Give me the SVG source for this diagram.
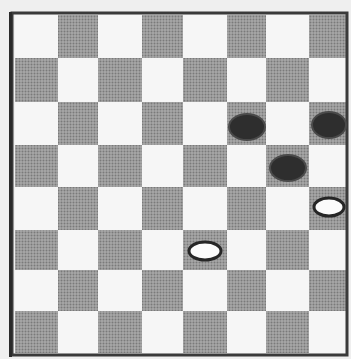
<svg xmlns="http://www.w3.org/2000/svg" width="351" height="359" viewBox="0 0 351 359">
<defs>
<pattern id="dots" width="3" height="3" patternUnits="userSpaceOnUse">
<rect width="3" height="3" fill="#a8a8a8"/>
<circle cx="1.5" cy="1.5" r="1" fill="#7a7a7a"/>
</pattern>
</defs>
<style>
.d{fill:url(#dots)}
.l{fill:#f6f6f6}
.bp{fill:#2e2e2e;stroke:#4a4a4a;stroke-width:2}
.wp{fill:#fbfbfb;stroke:#262626;stroke-width:3}
</style>
<rect width="351" height="359" fill="#efefef"/>
<g id="board">
<rect x="15" y="15" width="331" height="338" class="l"/>
<!-- row 0 -->
<rect class="d" x="58" y="15" width="40" height="43"/>
<rect class="d" x="142" y="15" width="41" height="43"/>
<rect class="d" x="227" y="15" width="39" height="43"/>
<rect class="d" x="309" y="15" width="37" height="43"/>
<!-- row 1 -->
<rect class="d" x="15" y="58" width="43" height="44"/>
<rect class="d" x="98" y="58" width="44" height="44"/>
<rect class="d" x="183" y="58" width="44" height="44"/>
<rect class="d" x="266" y="58" width="43" height="44"/>
<!-- row 2 -->
<rect class="d" x="58" y="102" width="40" height="43"/>
<rect class="d" x="142" y="102" width="41" height="43"/>
<rect class="d" x="227" y="102" width="39" height="43"/>
<rect class="d" x="309" y="102" width="37" height="43"/>
<!-- row 3 -->
<rect class="d" x="15" y="145" width="43" height="42"/>
<rect class="d" x="98" y="145" width="44" height="42"/>
<rect class="d" x="183" y="145" width="44" height="42"/>
<rect class="d" x="266" y="145" width="43" height="42"/>
<!-- row 4 -->
<rect class="d" x="58" y="187" width="40" height="43"/>
<rect class="d" x="142" y="187" width="41" height="43"/>
<rect class="d" x="227" y="187" width="39" height="43"/>
<rect class="d" x="309" y="187" width="37" height="43"/>
<!-- row 5 -->
<rect class="d" x="15" y="230" width="43" height="40"/>
<rect class="d" x="98" y="230" width="44" height="40"/>
<rect class="d" x="183" y="230" width="44" height="40"/>
<rect class="d" x="266" y="230" width="43" height="40"/>
<!-- row 6 -->
<rect class="d" x="58" y="270" width="40" height="41"/>
<rect class="d" x="142" y="270" width="41" height="41"/>
<rect class="d" x="227" y="270" width="39" height="41"/>
<rect class="d" x="309" y="270" width="37" height="41"/>
<!-- row 7 -->
<rect class="d" x="15" y="311" width="43" height="42"/>
<rect class="d" x="98" y="311" width="44" height="42"/>
<rect class="d" x="183" y="311" width="44" height="42"/>
<rect class="d" x="266" y="311" width="43" height="42"/>
<!-- frame -->
<rect x="12" y="13" width="335" height="342" fill="none" stroke="#3a3a3a" stroke-width="3"/>
<line x1="10.5" y1="12" x2="10.5" y2="357" stroke="#2a2a2a" stroke-width="3"/>
</g>
<g id="black1"><ellipse class="bp" cx="247" cy="127" rx="18" ry="13"/></g>
<g id="black2"><ellipse class="bp" cx="329" cy="125" rx="17" ry="13"/></g>
<g id="black3"><ellipse class="bp" cx="288" cy="168" rx="18" ry="13"/></g>
<g id="white1"><ellipse class="wp" cx="329" cy="207" rx="15" ry="9"/></g>
<g id="white2"><ellipse class="wp" cx="205" cy="251" rx="16" ry="9"/></g>
</svg>
